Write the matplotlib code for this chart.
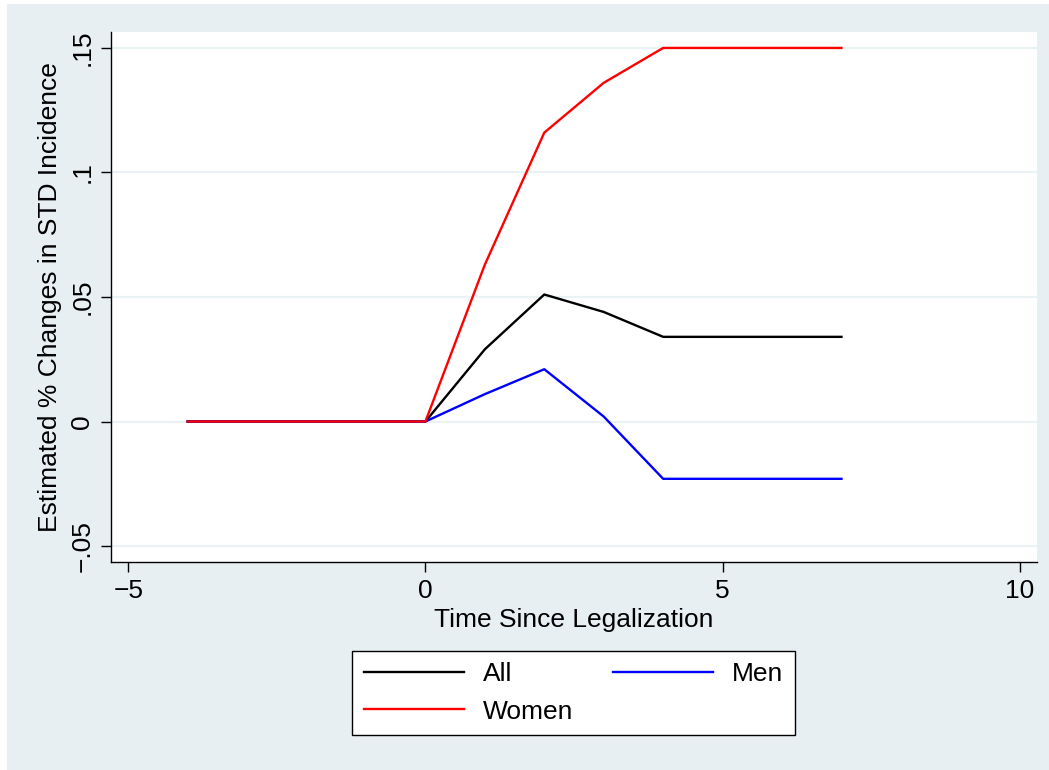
import numpy as np
import matplotlib.pyplot as plt
from matplotlib.patches import Rectangle

# Event-study estimates by years since legalization
years = [-4, -3, -2, -1, 0, 1, 2, 3, 4, 5, 6, 7]
all_est = [0, 0, 0, 0, 0, 0.029, 0.051, 0.044, 0.034, 0.034, 0.034, 0.034]
men_est = [0, 0, 0, 0, 0, 0.011, 0.021, 0.002, -0.023, -0.023, -0.023, -0.023]
women_est = [0, 0, 0, 0, 0, 0.063, 0.116, 0.136, 0.150, 0.150, 0.150, 0.150]

xticks = [-5, 0, 5, 10]
yticks = [-0.05, 0, 0.05, 0.1, 0.15]
ytick_labels = ["\u2212.05", "0", ".05", ".1", ".15"]

plt.rcParams['font.family'] = ['Liberation Sans', 'DejaVu Sans']

bg = '#E8EFF2'
fs = 19
fig = plt.figure(figsize=(10.49, 7.70), dpi=100)
fig.patch.set_facecolor('white')
fig.patches.append(Rectangle((7 / 1049, 0), 1 - 7 / 1049, 1 - 4 / 770,
                             transform=fig.transFigure, facecolor=bg,
                             edgecolor='none', zorder=-10))

ax = fig.add_axes([111 / 1049, 1 - 562 / 770, (1037 - 111) / 1049, (562 - 32) / 770])
ax.set_facecolor('white')

for y in yticks:
    ax.axhline(y, color='#EAF2F3', lw=1.6, zorder=1)

l_all, = ax.plot(years, all_est, color='black', lw=1.7, label='All', zorder=3)
l_men, = ax.plot(years, men_est, color='#0000FF', lw=1.7, label='Men', zorder=3)
l_women, = ax.plot(years, women_est, color='#FF0000', lw=1.7, label='Women', zorder=3)

ax.set_xlim(-5.29, 10.29)
ax.set_ylim(-0.0564, 0.1564)
ax.set_xticks(xticks)
ax.set_xticklabels(["\u22125", "0", "5", "10"])
ax.set_yticks(yticks)
ax.set_yticklabels(ytick_labels, rotation=90, va='center')

for side in ['top', 'right']:
    ax.spines[side].set_visible(False)
for side in ['left', 'bottom']:
    ax.spines[side].set_color('black')
    ax.spines[side].set_linewidth(1.0)

ax.tick_params(axis='both', direction='out', length=7, width=1.0,
               labelsize=fs, pad=5)
ax.set_xlabel('Time Since Legalization', fontsize=fs, labelpad=4)
ax.set_ylabel('Estimated % Changes in STD Incidence', fontsize=fs, labelpad=6)

# two columns, filled column-wise: All/Women then Men
leg = fig.legend([l_all, l_women, l_men], ['All', 'Women', 'Men'],
                 loc='center', bbox_to_anchor=(573.5 / 1049, 1 - 693 / 770),
                 ncol=2, fontsize=fs, frameon=True, fancybox=False,
                 handlelength=3.8, handletextpad=0.7, columnspacing=1.5,
                 borderpad=0.45, labelspacing=0.5)
leg.get_frame().set_edgecolor('black')
leg.get_frame().set_linewidth(1.0)
leg.get_frame().set_facecolor('white')
leg.get_frame().set_alpha(1)

fig.savefig('out.png', dpi=100, facecolor=fig.get_facecolor())
